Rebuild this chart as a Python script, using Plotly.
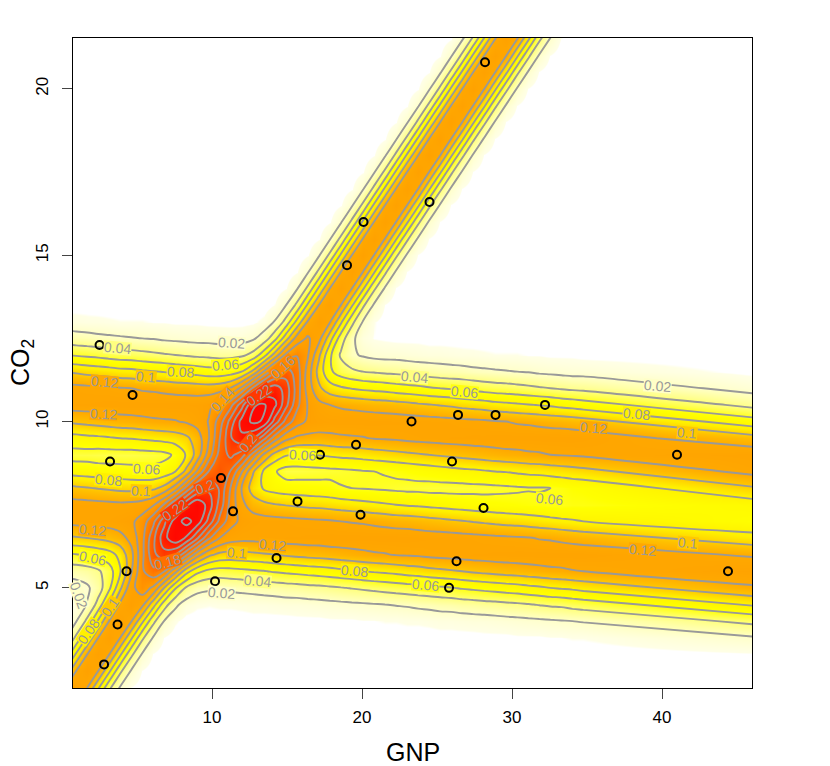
import numpy as np
import plotly.graph_objects as go

# points
gnp = [2.8, 3.7, 4.3, 3.2, 4.7, 2.5, 10.2, 11.4, 10.6, 14.3, 15.7, 17.2, 19.6, 19.9,
       19.0, 20.1, 24.5, 28.2, 23.3, 26.4, 28.9, 32.2, 26.0, 28.1, 26.3, 25.8, 41.0, 44.4]
co2 = [2.7, 3.9, 5.5, 8.8, 10.8, 12.3, 5.2, 7.3, 8.3, 5.9, 7.6, 9.0, 9.3, 7.2,
       14.7, 16.0, 16.6, 20.8, 10.0, 10.2, 10.2, 10.5, 8.8, 7.4, 5.8, 5.0, 9.0, 5.5]

# density surface estimated by eye, in thousandths, one list per grid column
grid_x = [-0.53, 0.21, 0.94, 1.68, 2.41, 3.15, 3.88, 4.62, 5.35, 6.09, 6.82, 7.56, 8.29,
          9.03, 9.77, 10.50, 11.24, 11.97, 12.71, 13.44, 14.18, 14.91, 15.65, 16.38, 17.12,
          17.85, 18.59, 19.32, 20.06, 20.79, 21.53, 22.26, 23.00, 23.74, 24.47, 25.21, 25.94,
          26.68, 27.41, 28.15, 28.88, 29.62, 30.35, 31.09, 31.82, 32.56, 33.29, 34.03, 34.76,
          46.5]
grid_y = [1.5, 2, 2.5, 3, 3.5, 4, 4.5, 5, 5.5, 6, 6.5, 7, 7.5, 8, 8.5, 9, 9.5, 10, 10.5,
          11, 11.5, 12, 12.5, 13, 13.5, 14, 14.5, 15, 15.5, 16, 16.5, 17, 17.5, 18, 18.5,
          19, 19.5, 20, 20.5, 21, 21.5, 22]
columns = [
    [120,83,44,18,6,2,3,9,25,55,94,125,130,107,75,52,70,100,127,128,101,62,30,11,3,1],
    [136,120,83,44,18,7,4,10,27,57,96,126,129,105,74,52,72,102,128,127,99,60,29,11,3,1],
    [120,136,120,83,44,19,9,12,28,59,98,127,128,103,72,52,73,104,129,126,97,58,27,10,3,1],
    [83,120,136,120,83,45,21,17,31,62,100,128,127,101,71,52,75,106,129,125,94,56,26,9,3,1],
    [44,83,120,136,120,83,47,30,37,66,103,129,126,99,69,51,76,108,130,124,92,54,24,9,2,1],
    [18,44,83,120,136,121,86,56,51,72,107,129,125,97,68,51,78,110,131,123,90,51,23,8,2,1],
    [6,18,44,83,120,137,124,96,78,86,113,132,124,95,67,51,80,112,131,121,87,49,22,7,2,0],
    [2,6,18,44,83,121,140,134,118,114,126,136,125,94,66,51,81,113,131,120,86,48,21,7,2,0],
    [0,2,6,18,44,84,125,151,157,155,154,149,128,94,65,52,83,115,131,118,83,46,20,7,2,0],
    [0,0,2,6,18,45,88,136,175,195,195,175,138,96,65,53,85,117,131,117,81,44,19,6,2,0],
    [0,0,0,2,6,19,49,99,161,213,234,214,163,106,69,55,87,118,131,115,79,42,17,6,1,0],
    [0,0,0,0,2,8,24,62,125,200,256,251,200,130,80,63,90,119,131,113,76,40,16,5,1,0],
    [0,0,0,0,0,3,12,37,88,164,237,267,236,166,105,82,96,122,131,112,74,38,15,5,1,0],
    [0,0,0,0,0,2,8,26,65,128,202,251,256,202,143,109,110,128,132,110,72,36,14,5,1,0],
    [0,0,0,0,0,2,7,23,55,105,164,214,232,216,180,149,138,141,136,109,69,35,14,4,1,0],
    [0,0,0,0,0,2,8,22,52,95,140,175,193,198,195,187,179,169,147,112,68,33,13,4,1,0],
    [0,0,0,0,0,2,8,24,53,93,129,148,153,159,179,205,218,208,173,121,71,33,12,4,1,0],
    [0,0,0,0,0,2,9,25,55,94,126,135,125,119,142,190,236,247,211,145,80,36,13,4,1,0],
    [0,0,0,0,0,3,10,26,57,96,126,130,111,91,103,154,222,264,258,182,104,46,17,5,1,0],
    [0,0,0,0,1,3,10,28,59,98,127,128,105,78,77,117,187,258,263,217,141,71,28,9,2,0],
    [0,0,0,0,1,3,11,29,62,100,128,127,101,72,62,93,150,212,245,230,176,108,53,21,7,2],
    [0,0,0,0,1,3,12,31,64,103,129,126,99,69,52,82,126,174,207,212,190,144,91,46,19,6,2],
    [0,0,0,0,1,4,12,32,66,105,129,125,97,68,52,79,116,149,166,172,171,159,128,85,44,18,6,2],
    [0,0,0,0,1,4,13,34,68,107,130,124,95,67,53,80,114,137,139,131,132,142,143,122,83,44,18,6,2],
    [0,0,0,0,1,4,14,35,70,108,130,123,94,66,54,81,113,133,126,104,92,104,127,138,120,83,44,18,6,2],
    [0,0,0,0,1,5,15,37,72,110,131,122,92,65,55,83,115,131,120,89,64,64,89,122,136,120,83,44,18,6,2],
    [0,0,0,0,1,5,16,39,75,112,131,120,90,61,56,85,117,131,117,83,50,37,50,84,120,136,120,83,44,18,6,2],
    [0,0,0,0,1,5,17,41,77,114,131,119,88,60,57,86,118,131,115,79,44,23,24,46,83,120,136,120,83,44,18,6,2],
    [0,0,0,0,2,6,18,43,80,116,131,118,86,59,59,88,119,131,113,76,40,18,11,19,44,83,120,136,120,83,44,18,6,2],
    [0,0,0,0,2,6,19,45,82,118,131,116,84,58,60,90,121,131,111,74,38,15,6,7,18,44,83,120,136,120,83,44,18,6,2],
    [0,0,0,0,2,7,20,47,84,119,131,114,82,57,61,92,122,130,110,72,36,14,5,3,6,18,44,83,120,136,120,83,44,18,6,2],
    [0,0,0,0,2,7,21,49,86,121,131,112,80,56,63,94,123,130,108,69,35,14,4,1,2,6,18,44,83,120,136,120,83,44,18,6,2],
    [0,0,0,1,2,8,22,51,89,122,131,111,78,55,65,96,125,129,106,67,33,13,4,1,0,2,6,18,44,83,120,136,120,83,44,18,6,2],
    [0,0,0,1,2,8,24,53,91,123,130,109,77,55,67,98,126,129,103,65,31,12,4,1,0,0,2,6,18,44,83,120,136,120,83,44,18,6,2],
    [0,0,0,1,2,9,25,55,94,125,129,107,75,54,69,100,127,128,101,62,30,11,3,1,0,0,0,2,6,18,44,83,120,136,120,83,44,18,6,2],
    [0,0,0,1,3,10,27,57,96,126,129,105,74,54,71,102,128,127,99,60,28,11,3,1] + [0]*4 + [2,6,18,44,83,120,136,120,83,44,18,6,2],
    [0,0,0,1,3,10,28,59,98,127,128,103,72,54,73,104,129,126,97,58,27,10,3,1] + [0]*5 + [2,6,18,44,83,120,136,120,83,44,18,6,2],
    [0,0,0,1,3,11,30,62,100,128,127,101,71,54,75,106,129,125,94,56,26,9,3,1] + [0]*6 + [2,6,18,44,83,120,136,120,83,44,18,6],
    [0,0,0,1,3,12,31,64,103,129,126,99,69,55,76,108,130,124,92,54,24,9,2,1] + [0]*7 + [2,6,18,44,83,120,136,120,83,44,18],
    [0,0,0,1,4,12,33,66,105,129,125,97,68,55,78,110,130,123,90,51,23,8,2,0] + [0]*8 + [2,6,18,44,83,120,136,120,83,44],
    [0,0,0,1,4,13,34,68,107,130,124,95,67,56,80,112,131,121,87,49,22,7,2,0] + [0]*9 + [2,6,18,44,83,120,136,120,83],
    [0,0,0,1,4,14,36,70,109,130,123,93,66,57,81,114,131,120,85,48,21,7,2,0] + [0]*10 + [2,6,18,44,83,120,136,120],
    [0,0,0,1,5,15,37,72,110,131,122,92,65,58,83,115,131,118,83,46,20,7,2,0] + [0]*11 + [2,6,18,44,83,120,136],
    [0,0,0,1,5,16,39,75,112,131,121,90,64,59,85,117,131,117,81,44,19,6,2,0] + [0]*12 + [2,6,18,44,83,120],
    [0,0,0,1,5,17,41,77,114,131,119,88,63,59,86,118,131,115,79,42,17,6,1,0] + [0]*13 + [2,6,18,44,83],
    [0,0,0,1,6,18,43,80,116,131,118,86,61,60,88,120,131,113,77,40,16,5,1,0] + [0]*14 + [2,6,18,44],
    [0,0,0,2,6,19,44,82,117,131,116,84,60,62,90,121,131,112,74,38,15,5,1,0] + [0]*15 + [2,6,18],
    [0,0,0,2,7,20,47,84,119,131,114,82,62,65,92,122,131,110,72,36,14,5,1,0] + [0]*16 + [2,6],
    [0,0,0,2,7,21,49,87,120,131,112,80,62,66,94,123,130,108,69,35,14,4,1,0] + [0]*17 + [2],
    [0,0,2,6,19,46,84,118,133,117,86,66,72,99,127,131,106,67,33,13,4,1,0],
]

# contour labels where the reference has them
label_text = ["0.02", "0.04", "0.06", "0.08", "0.1", "0.12", "0.12", "0.06", "0.08", "0.1", "0.12",
              "0.06", "0.14", "0.16", "0.22", "0.2", "0.2", "0.22", "0.18", "0.12", "0.1", "0.04",
              "0.02", "0.08", "0.06", "0.06", "0.04", "0.06", "0.02", "0.08", "0.12", "0.1", "0.06",
              "0.1", "0.12", "0.02", "0.08", "0.1"]
label_x = [11.33, 3.67, 10.87, 7.93, 5.6, 2.8, 2.73, 5.6, 3.07, 5.27, 2.0,
           2.0, 10.67, 14.73, 13.13, 12.4, 9.53, 7.53, 7.0, 14.0, 11.67, 13.0,
           10.6, 19.47, 24.2, 16.0, 23.47, 26.8, 39.73, 38.33, 35.4, 41.67, 32.53,
           41.73, 38.73, 1.13, 1.73, 3.2]
label_y = [12.36, 12.21, 11.70, 11.49, 11.34, 11.19, 10.23, 8.58, 8.25, 7.92, 6.74,
           5.90, 10.65, 11.64, 10.81, 9.36, 8.04, 7.35, 5.78, 6.29, 6.05, 5.21,
           4.85, 5.51, 5.09, 9.0, 11.34, 10.89, 11.07, 10.23, 9.81, 9.66, 7.67,
           6.35, 6.14, 4.8, 3.68, 4.43]
label_angle = [4, 5, -5, 3, 5, 5, 3, 3, 5, 3, 5,
               12, -48, -42, -35, -50, -20, -35, -15, 5, 5, 5,
               5, 5, 5, 3, 5, 5, 5, 5, 5, 5, 5,
               5, 5, 70, -55, -55]
label_bg = {"0.02": "#FFFFC8", "0.04": "#FFFF80", "0.06": "#FFFF10", "0.08": "#FFF000", "0.1": "#FFC800",
            "0.12": "#FFA800", "0.14": "#FFA000", "0.16": "#FF8800", "0.18": "#FF7000", "0.2": "#FF5000",
            "0.22": "#FF3800"}

# pad the tops of the columns with zeros
z = np.array([c + [0] * (len(grid_y) - len(c)) for c in columns]).T / 1000.0

zmax = 0.27
colorscale = [
    [0.0, "#FFFFFF"], [0.006 / zmax, "#FFFFFF"], [0.007 / zmax, "#FFFFE6"],
    [0.02 / zmax, "#FFFFC8"], [0.04 / zmax, "#FFFF80"], [0.065 / zmax, "#FFFF00"],
    [0.085 / zmax, "#FFF000"], [0.105 / zmax, "#FFC000"], [0.12 / zmax, "#FFA800"],
    [0.14 / zmax, "#FFA000"], [0.16 / zmax, "#FF8800"], [0.20 / zmax, "#FF5000"],
    [0.24 / zmax, "#FF1000"], [1.0, "#FF0000"],
]

fig = go.Figure()
fig.add_trace(go.Heatmap(x=grid_x, y=grid_y, z=z, zmin=0, zmax=zmax, zsmooth="best",
                         colorscale=colorscale, showscale=False, hoverinfo="skip"))
fig.add_trace(go.Contour(x=grid_x, y=grid_y, z=z, showscale=False, hoverinfo="skip",
                         contours=dict(start=0.02, end=0.26, size=0.02, coloring="none"),
                         line=dict(color="#999999", width=1.9, smoothing=1)))
fig.add_trace(go.Scatter(x=gnp, y=co2, mode="markers", hoverinfo="skip",
                         marker=dict(symbol="circle", size=8, color="rgba(0,0,0,0)",
                                     line=dict(color="black", width=2))))

for text, x, y, angle in zip(label_text, label_x, label_y, label_angle):
    fig.add_annotation(x=x, y=y, text=text, textangle=angle, showarrow=False, height=12,
                       font=dict(size=14, color="#999999"), bgcolor=label_bg[text], borderpad=0)

# axis titles
fig.add_annotation(xref="paper", yref="paper", x=0.5, y=0, yshift=-80, text="GNP", showarrow=False,
                   font=dict(size=25))
fig.add_annotation(xref="paper", yref="paper", x=0, y=0.5, xshift=-69, text="CO<sub>2</sub>", textangle=-90,
                   showarrow=False, font=dict(size=25))

fig.update_layout(
    width=830, height=766, showlegend=False,
    margin=dict(l=73, r=78, t=38, b=78),
    paper_bgcolor="white", plot_bgcolor="white",
    font=dict(family="Liberation Sans", color="black"))
fig.update_xaxes(range=[0.73, 46], tickvals=[10, 20, 30, 40], ticks="outside", ticklen=10,
                 tickwidth=1.3, showline=True, linewidth=1.3, linecolor="black", mirror=True,
                 showgrid=False, zeroline=False, tickfont=dict(size=17), ticklabelstandoff=3)
fig.update_yaxes(range=[1.99, 21.53], tickvals=[5, 10, 15, 20], ticks="outside", ticklen=10,
                 tickwidth=1.3, showline=True, linewidth=1.3, linecolor="black", mirror=True,
                 showgrid=False, zeroline=False, tickangle=-90, tickfont=dict(size=17), ticklabelstandoff=7)

fig.write_html("out.html", post_script="document.body.style.margin='0';",
               config=dict(displayModeBar=False))
